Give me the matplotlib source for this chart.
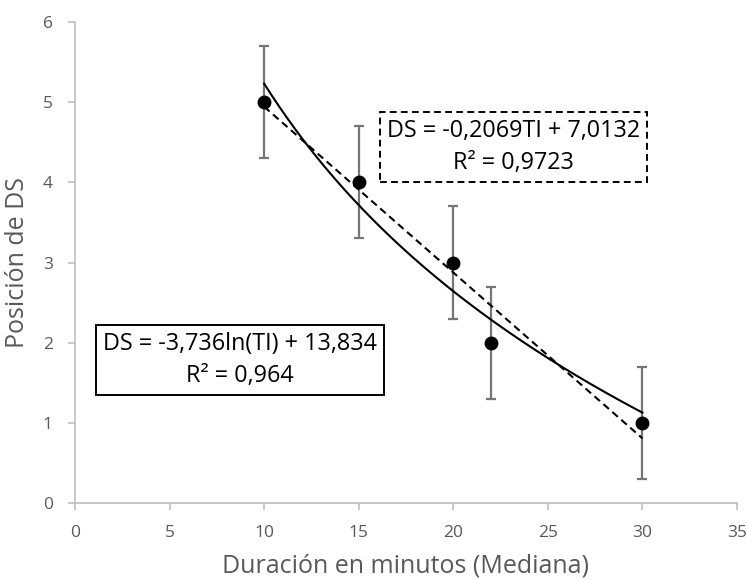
import numpy as np
import matplotlib.pyplot as plt

# datos: duracion (mediana, minutos) vs posicion de DS
duracion = [10, 15, 20, 22, 30]
posicion = [5, 4, 3, 2, 1]
error = [0.7, 0.7, 0.7, 0.7, 0.7]

# coeficientes de las lineas de tendencia
lin_m, lin_b = -0.2069, 7.0132
log_a, log_b = -3.736, 13.834

gris = '#767676'
texto = '#595959'
plt.rcParams['font.family'] = ['Open Sans', 'DejaVu Sans']

fig = plt.figure(figsize=(7.47, 5.8), dpi=100)
ax = fig.add_axes([0.1004, 0.1328, 0.8862, 0.8292])

ax.errorbar(duracion, posicion, yerr=error, fmt='none', ecolor=gris,
            elinewidth=1.6, capsize=3.8, capthick=1.6, zorder=2)

xt = np.linspace(min(duracion), max(duracion), 200)
ax.plot(xt, lin_m * xt + lin_b, color='black', ls=(0, (3.5, 2.2)), lw=1.5, zorder=3)
ax.plot(xt, log_a * np.log(xt) + log_b, color='black', ls='-', lw=1.5, zorder=3)

ax.plot(duracion, posicion, 'o', color='black', ms=9, zorder=4)

ax.text(0.663, 0.740, 'DS = -0,2069TI + 7,0132\nR² = 0,9723', transform=ax.transAxes,
        ha='center', va='center', fontsize=16.8, color='black', linespacing=1.45,
        bbox=dict(boxstyle='square,pad=0.3', fc='white', ec='black',
                  ls=(0, (3.5, 2.2)), lw=1.4))
ax.text(0.249, 0.297, 'DS = -3,736ln(TI) + 13,834\nR² = 0,964', transform=ax.transAxes,
        ha='center', va='center', fontsize=16.8, color='black', linespacing=1.45,
        bbox=dict(boxstyle='square,pad=0.3', fc='white', ec='black', lw=1.4))

ax.set_xlim(0, 35)
ax.set_ylim(0, 6)
ax.set_xticks(range(0, 36, 5))
ax.set_yticks(range(0, 7))

for s in ['top', 'right']:
    ax.spines[s].set_visible(False)
for s in ['left', 'bottom']:
    ax.spines[s].set_color('#bfbfbf')
    ax.spines[s].set_linewidth(1.2)
ax.tick_params(colors='#bfbfbf', labelcolor=texto, labelsize=12.5, length=5, width=1.2)
ax.tick_params(axis='x', pad=11)
ax.tick_params(axis='y', pad=11)

ax.set_xlabel('Duración en minutos (Mediana)', fontsize=18, color=texto, labelpad=9)
ax.set_ylabel('Posición de DS', fontsize=18, color=texto, labelpad=9)

fig.savefig('out.png', dpi=100)
